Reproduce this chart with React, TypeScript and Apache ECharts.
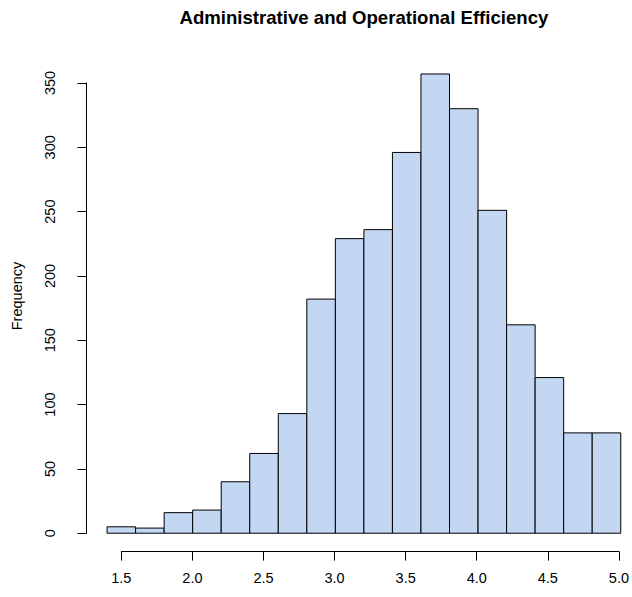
import React, { useEffect, useRef } from "react";
import * as echarts from "echarts";

// ---- data ----
const binStarts = [1.4, 1.6, 1.8, 2.0, 2.2, 2.4, 2.6, 2.8, 3.0, 3.2, 3.4, 3.6, 3.8, 4.0, 4.2, 4.4, 4.6, 4.8];
const binWidth = 0.2;
const counts = [5, 4, 16, 18, 40, 62, 93, 182, 229, 236, 296, 357, 330, 251, 162, 121, 78, 78];
const xTickMin = 1.5;
const xTickMax = 5.0;
const xTickStep = 0.5;
const yTickMin = 0;
const yTickMax = 350;
const yTickStep = 50;
const titleText = "Administrative and Operational Efficiency";
const yLabelText = "Frequency";

// ---- layout (R-style plot region) ----
const W = 632;
const H = 597;
const FONT = "'Liberation Sans', Arial, Helvetica, sans-serif";
const FILL = "#C3D6F2";

export default function App() {
  const ref = useRef<HTMLDivElement | null>(null);

  useEffect(() => {
    if (!ref.current) return;
    const chart = echarts.init(ref.current, undefined, { renderer: "svg" });

    const dataMin = binStarts[0];
    const dataMax = binStarts[binStarts.length - 1] + binWidth;
    const xr = dataMax - dataMin;
    const usrX0 = dataMin - 0.04 * xr;
    const usrX1 = dataMax + 0.04 * xr;
    const maxCount = Math.max(...counts);
    const usrY0 = -0.04 * maxCount;
    const usrY1 = maxCount * 1.04;

    const plotLeft = 86.5;
    const plotRight = 641.3; // R plot region extends past the image edge
    const plotTop = 55.6;
    const plotBottom = 551.6;
    const pxX = (plotRight - plotLeft) / (usrX1 - usrX0);
    const pxY = (plotBottom - plotTop) / (usrY1 - usrY0);
    const xPix = (v: number) => plotLeft + (v - usrX0) * pxX;
    const yPix = (v: number) => plotBottom - (v - usrY0) * pxY;
    const visibleX1 = usrX0 + (W - plotLeft) / pxX;

    const barData = binStarts.map((s, i) => [s, s + binWidth, counts[i]]);

    chart.setOption({
      animation: false,
      backgroundColor: "#ffffff",
      textStyle: { fontFamily: FONT },
      grid: [
        { left: plotLeft, right: 0, top: plotTop, bottom: H - plotBottom },
        { left: xPix(xTickMin), right: W - xPix(xTickMax), bottom: H - plotBottom, height: 1 },
        { left: plotLeft, width: 1, top: yPix(yTickMax), bottom: H - yPix(yTickMin) },
      ],
      xAxis: [
        { gridIndex: 0, type: "value", min: usrX0, max: visibleX1, show: false },
        {
          gridIndex: 1,
          type: "value",
          min: xTickMin,
          max: xTickMax,
          interval: xTickStep,
          position: "bottom",
          splitLine: { show: false },
          axisLine: { show: true, lineStyle: { color: "#000", width: 1 } },
          axisTick: { show: true, inside: false, length: 9, lineStyle: { color: "#000", width: 1 } },
          axisLabel: {
            show: true,
            margin: 19,
            color: "#000",
            fontSize: 14.5,
            fontFamily: FONT,
            formatter: (v: number) => v.toFixed(1),
            showMinLabel: true,
            showMaxLabel: true,
          },
        },
        { gridIndex: 2, type: "value", min: 0, max: 1, show: false },
      ],
      yAxis: [
        { gridIndex: 0, type: "value", min: usrY0, max: usrY1, show: false },
        { gridIndex: 1, type: "value", min: 0, max: 1, show: false },
        {
          gridIndex: 2,
          type: "value",
          min: yTickMin,
          max: yTickMax,
          interval: yTickStep,
          position: "left",
          splitLine: { show: false },
          axisLine: { show: true, lineStyle: { color: "#000", width: 1 } },
          axisTick: { show: true, inside: false, length: 9, lineStyle: { color: "#000", width: 1 } },
          axisLabel: {
            show: true,
            rotate: 90,
            margin: 29,
            color: "#000",
            fontSize: 14.5,
            fontFamily: FONT,
            showMinLabel: true,
            showMaxLabel: true,
          },
        },
      ],
      graphic: [
        {
          type: "text",
          x: (plotLeft + plotRight) / 2,
          y: 17,
          style: {
            text: titleText,
            fill: "#000",
            font: `bold 18.6px ${FONT}`,
            align: "center",
            verticalAlign: "middle",
          },
        },
        {
          type: "text",
          x: 17,
          y: 296,
          rotation: Math.PI / 2,
          style: {
            text: yLabelText,
            fill: "#000",
            font: `14.5px ${FONT}`,
            align: "center",
            verticalAlign: "middle",
          },
        },
      ],
      series: [
        {
          type: "custom",
          xAxisIndex: 0,
          yAxisIndex: 0,
          clip: false,
          encode: { x: [0, 1], y: 2 },
          data: barData,
          renderItem: (params: any, api: any) => {
            const x0 = api.value(0);
            const x1 = api.value(1);
            const c = api.value(2);
            const p0 = api.coord([x0, c]);
            const p1 = api.coord([x1, 0]);
            return {
              type: "rect",
              shape: { x: p0[0], y: p0[1], width: p1[0] - p0[0], height: p1[1] - p0[1] },
              style: { fill: FILL, stroke: "#000", lineWidth: 1 },
            };
          },
        },
      ],
    });

    return () => chart.dispose();
  }, []);

  return (
    <div
      ref={ref}
      style={{ position: "absolute", left: 0, top: 0, width: W, height: H, background: "#fff" }}
    />
  );
}
